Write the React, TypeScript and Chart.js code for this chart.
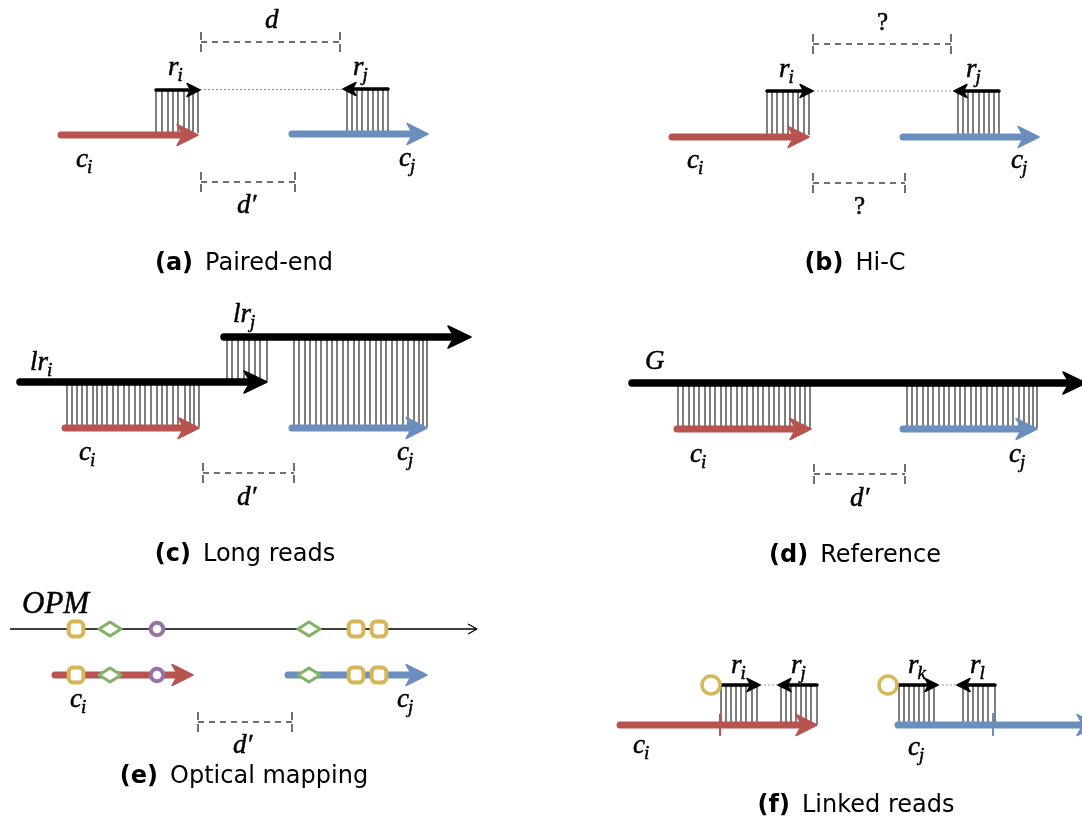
import React, { useEffect, useRef } from "react";
import { Chart, registerables } from "chart.js";

Chart.register(...registerables);

type Arrow = { x1: number; x2: number; y: number };
type Hatch = { top: number; bottom: number; xs: number[] };
type Bracket = { x1: number; x2: number; y: number };
type Pt = { x: number; y: number };
type Tick = { x: number; y1: number; y2: number };
type Label = { base: string; sub?: string; x: number; y: number; roman?: boolean };
type Caption = { tag: string; text: string; cx: number; y: number };

const W = 1082;
const H = 821;

// contigs (c_i red, c_j blue)
const redContigs: Arrow[] = [
  { x1: 61, x2: 198, y: 135 },
  { x1: 672, x2: 809, y: 137 },
  { x1: 65, x2: 199, y: 428 },
  { x1: 677, x2: 811, y: 429 },
  { x1: 55, x2: 193, y: 675 },
  { x1: 620, x2: 817, y: 725 },
];
const blueContigs: Arrow[] = [
  { x1: 292, x2: 428, y: 134 },
  { x1: 903, x2: 1039, y: 137 },
  { x1: 292, x2: 427, y: 428 },
  { x1: 903, x2: 1037, y: 429 },
  { x1: 288, x2: 427, y: 675 },
  { x1: 898, x2: 1098, y: 725 },
];
// long reads and reference genome G
const longReads: Arrow[] = [
  { x1: 20, x2: 267, y: 382 },
  { x1: 224, x2: 471, y: 337 },
  { x1: 632, x2: 1086, y: 383 },
];
// short reads r_i, r_j, r_k, r_l
const shortReads: Arrow[] = [
  { x1: 156, x2: 200, y: 90 },
  { x1: 388, x2: 343, y: 89 },
  { x1: 767, x2: 813, y: 91 },
  { x1: 999, x2: 954, y: 91 },
  { x1: 721, x2: 760, y: 685 },
  { x1: 817, x2: 778, y: 685 },
  { x1: 899, x2: 938, y: 685 },
  { x1: 995, x2: 957, y: 685 },
];
// optical map
const opmLine: Arrow[] = [{ x1: 10, x2: 477, y: 629 }];

// alignment hatching
const hatchGroups: Hatch[] = [
  { top: 90, bottom: 133, xs: [156, 162, 168, 173, 178, 184, 189, 193, 198] },
  { top: 89, bottom: 132, xs: [347, 352, 357, 362, 368, 373, 378, 383, 388] },
  { top: 91, bottom: 135, xs: [767, 772, 777, 783, 788, 793, 798, 804, 809] },
  { top: 91, bottom: 135, xs: [958, 963, 968, 973, 979, 984, 989, 994, 999] },
  { top: 382, bottom: 427, xs: [67, 72, 77, 82, 87, 93, 97, 102, 107, 113, 118, 124, 129, 135, 140, 145, 151, 157, 162, 167, 173, 178, 185, 190, 194, 199] },
  { top: 337, bottom: 381, xs: [227, 232, 238, 244, 249, 255, 260, 267] },
  { top: 337, bottom: 427, xs: [294, 299, 305, 310, 316, 321, 327, 332, 337, 343, 348, 354, 359, 365, 370, 376, 381, 386, 392, 397, 403, 408, 414, 419, 423, 427] },
  { top: 383, bottom: 428, xs: [678, 683, 689, 694, 699, 705, 710, 715, 721, 726, 731, 737, 742, 747, 753, 758, 763, 769, 774, 779, 785, 790, 795, 800, 805, 810] },
  { top: 383, bottom: 428, xs: [907, 912, 917, 923, 928, 933, 939, 944, 949, 955, 960, 965, 971, 976, 981, 987, 992, 997, 1003, 1008, 1013, 1019, 1024, 1029, 1033, 1037] },
  { top: 685, bottom: 724, xs: [721, 726, 731, 736, 741, 746, 752, 757] },
  { top: 685, bottom: 724, xs: [781, 786, 791, 796, 801, 806, 811, 817] },
  { top: 685, bottom: 724, xs: [899, 904, 909, 914, 919, 924, 929, 934] },
  { top: 685, bottom: 724, xs: [963, 968, 973, 978, 983, 988, 995] },
];

// distance brackets d, d'
const brackets: Bracket[] = [
  { x1: 201, x2: 340, y: 42 },
  { x1: 201, x2: 295, y: 182 },
  { x1: 813, x2: 951, y: 44 },
  { x1: 813, x2: 905, y: 183 },
  { x1: 203, x2: 294, y: 473 },
  { x1: 814, x2: 905, y: 474 },
  { x1: 198, x2: 292, y: 722 },
];
// dotted links between read pairs
const pairLinks: Bracket[] = [
  { x1: 200, x2: 343, y: 89.5 },
  { x1: 813, x2: 954, y: 91 },
  { x1: 760, x2: 778, y: 685 },
  { x1: 938, x2: 957, y: 685 },
];

// optical mapping labels
const yellowSquares: Pt[] = [
  { x: 76, y: 629 }, { x: 356, y: 629 }, { x: 379, y: 629 },
  { x: 76, y: 675 }, { x: 356, y: 675 }, { x: 379, y: 675 },
];
const greenDiamonds: Pt[] = [
  { x: 110, y: 629 }, { x: 309, y: 629 }, { x: 110, y: 675 }, { x: 309, y: 675 },
];
const purpleCircles: Pt[] = [{ x: 157, y: 629 }, { x: 157, y: 675 }];
// linked-read barcodes
const barcodes: Pt[] = [{ x: 711, y: 685 }, { x: 888, y: 685 }];
const redTicks: Tick[] = [{ x: 720, y1: 714, y2: 736 }];
const blueTicks: Tick[] = [{ x: 993, y1: 713, y2: 736 }];

const mathLabels: Label[] = [
  // (a)
  { base: "c", sub: "i", x: 76, y: 167 },
  { base: "c", sub: "j", x: 399, y: 166 },
  { base: "r", sub: "i", x: 168, y: 75 },
  { base: "r", sub: "j", x: 353, y: 75 },
  { base: "d", x: 265, y: 28 },
  { base: "d\u2032", x: 237, y: 213 },
  // (b)
  { base: "c", sub: "i", x: 687, y: 168 },
  { base: "c", sub: "j", x: 1011, y: 168 },
  { base: "r", sub: "i", x: 779, y: 77 },
  { base: "r", sub: "j", x: 966, y: 77 },
  { base: "?", x: 877, y: 30, roman: true },
  { base: "?", x: 854, y: 214, roman: true },
  // (c)
  { base: "lr", sub: "j", x: 233, y: 322 },
  { base: "lr", sub: "i", x: 30, y: 370 },
  { base: "c", sub: "i", x: 79, y: 460 },
  { base: "c", sub: "j", x: 397, y: 460 },
  { base: "d\u2032", x: 237, y: 505 },
  // (d)
  { base: "G", x: 645, y: 369 },
  { base: "c", sub: "i", x: 690, y: 462 },
  { base: "c", sub: "j", x: 1009, y: 462 },
  { base: "d\u2032", x: 850, y: 506 },
  // (e)
  { base: "OPM", x: 22, y: 613 },
  { base: "c", sub: "i", x: 70, y: 707 },
  { base: "c", sub: "j", x: 397, y: 707 },
  { base: "d\u2032", x: 233, y: 753 },
  // (f)
  { base: "r", sub: "i", x: 731, y: 673 },
  { base: "r", sub: "j", x: 791, y: 673 },
  { base: "r", sub: "k", x: 908, y: 673 },
  { base: "r", sub: "l", x: 970, y: 673 },
  { base: "c", sub: "i", x: 633, y: 753 },
  { base: "c", sub: "j", x: 908, y: 755 },
];

const captions: Caption[] = [
  { tag: "(a)", text: "Paired-end", cx: 244, y: 270 },
  { tag: "(b)", text: "Hi-C", cx: 855, y: 270 },
  { tag: "(c)", text: "Long reads", cx: 245, y: 561 },
  { tag: "(d)", text: "Reference", cx: 855, y: 562 },
  { tag: "(e)", text: "Optical mapping", cx: 244, y: 783 },
  { tag: "(f)", text: "Linked reads", cx: 856, y: 812 },
];

const RED = "#B85450";
const BLUE = "#6C8EBF";
const YELLOW = "#D6B656";
const GREEN = "#82B366";
const PURPLE = "#9673A6";

const HEAD_BIG = { len: 21, half: 10.5 };
const HEAD_LONG = { len: 23, half: 11 };
const HEAD_SMALL = { len: 13, half: 6.5 };

function shaftData(arrows: Arrow[], headLen: number) {
  const out: any[] = [];
  arrows.forEach((a) => {
    const dir = Math.sign(a.x2 - a.x1);
    out.push({ x: a.x1, y: a.y }, { x: a.x2 - dir * headLen * 0.6, y: a.y }, { x: a.x2, y: null });
  });
  return out;
}
function segData(items: Bracket[]) {
  const out: any[] = [];
  items.forEach((b) => out.push({ x: b.x1, y: b.y }, { x: b.x2, y: b.y }, { x: b.x2, y: null }));
  return out;
}
function bracketTicks(items: Bracket[]) {
  const out: any[] = [];
  items.forEach((b) => {
    [b.x1, b.x2].forEach((x) => out.push({ x, y: b.y - 10 }, { x, y: b.y + 10 }, { x, y: null }));
  });
  return out;
}
function hatchData(groups: Hatch[]) {
  const out: any[] = [];
  groups.forEach((g) => g.xs.forEach((x) => out.push({ x, y: g.top }, { x, y: g.bottom }, { x, y: null })));
  return out;
}
function tickData(ticks: Tick[]) {
  const out: any[] = [];
  ticks.forEach((t) => out.push({ x: t.x, y: t.y1 }, { x: t.x, y: t.y2 }, { x: t.x, y: null }));
  return out;
}

function diamondImage(color: string) {
  const c = document.createElement("canvas");
  c.width = 30;
  c.height = 22;
  const g = c.getContext("2d")!;
  g.beginPath();
  g.moveTo(15 - 11, 11);
  g.lineTo(15, 11 - 7);
  g.lineTo(15 + 11, 11);
  g.lineTo(15, 11 + 7);
  g.closePath();
  g.fillStyle = "#fff";
  g.fill();
  g.lineWidth = 3.2;
  g.lineJoin = "round";
  g.strokeStyle = color;
  g.stroke();
  return c;
}

const lineDs = (label: string, data: any[], color: string, width: number, order: number, extra: any = {}) => ({
  label,
  data,
  showLine: true,
  borderColor: color,
  borderWidth: width,
  pointRadius: 0,
  pointHoverRadius: 0,
  spanGaps: false,
  order,
  ...extra,
});

const markerDs = (label: string, data: Pt[], style: any, radius: number, color: string, bw: number) => ({
  label,
  data,
  showLine: false,
  pointStyle: style,
  pointRadius: radius,
  pointHoverRadius: radius,
  pointBorderColor: color,
  pointBackgroundColor: "#ffffff",
  pointBorderWidth: bw,
  order: 0,
});

const diagramPlugin = {
  id: "diagramOverlay",
  afterDatasetsDraw(chart: any) {
    const ctx: CanvasRenderingContext2D = chart.ctx;
    const X = (v: number) => chart.scales.x.getPixelForValue(v);
    const Y = (v: number) => chart.scales.y.getPixelForValue(v);
    ctx.save();
    const head = (a: Arrow, color: string, h: { len: number; half: number }) => {
      const dir = Math.sign(a.x2 - a.x1);
      const tx = X(a.x2);
      const ty = Y(a.y);
      ctx.beginPath();
      ctx.moveTo(tx, ty);
      ctx.lineTo(tx - dir * h.len, ty - h.half);
      ctx.lineTo(tx - dir * h.len * 0.72, ty);
      ctx.lineTo(tx - dir * h.len, ty + h.half);
      ctx.closePath();
      ctx.fillStyle = color;
      ctx.strokeStyle = color;
      ctx.lineWidth = 1.5;
      ctx.lineJoin = "round";
      ctx.fill();
      ctx.stroke();
    };
    redContigs.forEach((a) => head(a, RED, HEAD_BIG));
    blueContigs.forEach((a) => head(a, BLUE, HEAD_BIG));
    longReads.forEach((a) => head(a, "#000", HEAD_LONG));
    shortReads.forEach((a) => head(a, "#000", HEAD_SMALL));
    // open arrow head of the optical map
    opmLine.forEach((a) => {
      const tx = X(a.x2);
      const ty = Y(a.y);
      ctx.beginPath();
      ctx.moveTo(tx - 9, ty - 5);
      ctx.lineTo(tx, ty);
      ctx.lineTo(tx - 9, ty + 5);
      ctx.strokeStyle = "#000";
      ctx.lineWidth = 1.3;
      ctx.stroke();
    });

    // math labels
    const mathFont = (s: number) => `italic ${s}px "Liberation Serif", "DejaVu Serif", serif`;
    ctx.fillStyle = "#000";
    ctx.strokeStyle = "#000";
    ctx.lineWidth = 0.5;
    ctx.textAlign = "left";
    ctx.textBaseline = "alphabetic";
    mathLabels.forEach((l) => {
      const px = X(l.x);
      const py = Y(l.y);
      ctx.font = l.roman ? `25px "Liberation Serif", serif` : mathFont(l.base === "OPM" ? 31 : 27);
      ctx.fillText(l.base, px, py);
      ctx.strokeText(l.base, px, py);
      if (l.sub) {
        const w = ctx.measureText(l.base).width;
        ctx.font = mathFont(19);
        ctx.fillText(l.sub, px + w - 1, py + 6);
        ctx.strokeText(l.sub, px + w - 1, py + 6);
      }
    });

    // captions
    const boldFont = `bold 24px "DejaVu Sans", sans-serif`;
    const normFont = `24px "DejaVu Sans", sans-serif`;
    captions.forEach((c) => {
      ctx.font = boldFont;
      const tw = ctx.measureText(c.tag).width;
      ctx.font = normFont;
      const gap = 12;
      const nw = ctx.measureText(c.text).width;
      const total = tw + gap + nw;
      const left = X(c.cx) - total / 2;
      const py = Y(c.y);
      ctx.font = boldFont;
      ctx.fillText(c.tag, left, py);
      ctx.font = normFont;
      ctx.fillText(c.text, left + tw + gap, py);
    });
    ctx.restore();
  },
};

export default function App() {
  const ref = useRef<HTMLCanvasElement | null>(null);
  useEffect(() => {
    if (!ref.current) return;
    const diamond = diamondImage(GREEN);
    const chart = new Chart(ref.current, {
      type: "scatter",
      data: {
        datasets: [
          markerDs("barcodes", barcodes, "circle", 9, YELLOW, 3.5),
          markerDs("squares", yellowSquares, "rectRounded", 8.6, YELLOW, 4),
          markerDs("diamonds", greenDiamonds, diamond, 11, GREEN, 0),
          markerDs("circles", purpleCircles, "circle", 6.3, PURPLE, 4),
          lineDs("shortReads", shaftData(shortReads, HEAD_SMALL.len), "#000", 3.5, 3, { borderCapStyle: "round" }),
          lineDs("longReads", shaftData(longReads, HEAD_LONG.len), "#000", 7.5, 3, { borderCapStyle: "round" }),
          lineDs("redContigs", shaftData(redContigs, HEAD_BIG.len), RED, 7, 4, { borderCapStyle: "round" }),
          lineDs("blueContigs", shaftData(blueContigs, HEAD_BIG.len), BLUE, 7, 4, { borderCapStyle: "round" }),
          lineDs("redTicks", tickData(redTicks), RED, 2, 4),
          lineDs("blueTicks", tickData(blueTicks), BLUE, 2, 4),
          lineDs("opm", segData(opmLine), "#000", 1.3, 5),
          lineDs("links", segData(pairLinks), "#9a9a9a", 1, 6, { borderDash: [2, 2] }),
          lineDs("brackets", segData(brackets), "#707070", 2, 7, { borderDash: [6, 5] }),
          lineDs("bracketTicks", bracketTicks(brackets), "#707070", 2, 7, { borderDash: [8, 4] }),
          lineDs("hatch", hatchData(hatchGroups), "rgba(40,40,40,0.85)", 1.4, 10),
        ] as any,
      },
      options: {
        responsive: false,
        maintainAspectRatio: false,
        animation: false,
        events: [],
        layout: { padding: 0, autoPadding: false },
        scales: {
          x: { type: "linear", min: 0, max: W, display: false },
          y: { type: "linear", min: 0, max: H, reverse: true, display: false },
        },
        plugins: { legend: { display: false }, tooltip: { enabled: false } },
      } as any,
      plugins: [diagramPlugin],
    });
    return () => chart.destroy();
  }, []);
  return (
    <div style={{ position: "fixed", left: 0, top: 0, width: W, height: H, background: "#fff" }}>
      <canvas ref={ref} width={W} height={H} style={{ width: W, height: H, display: "block" }} />
    </div>
  );
}
